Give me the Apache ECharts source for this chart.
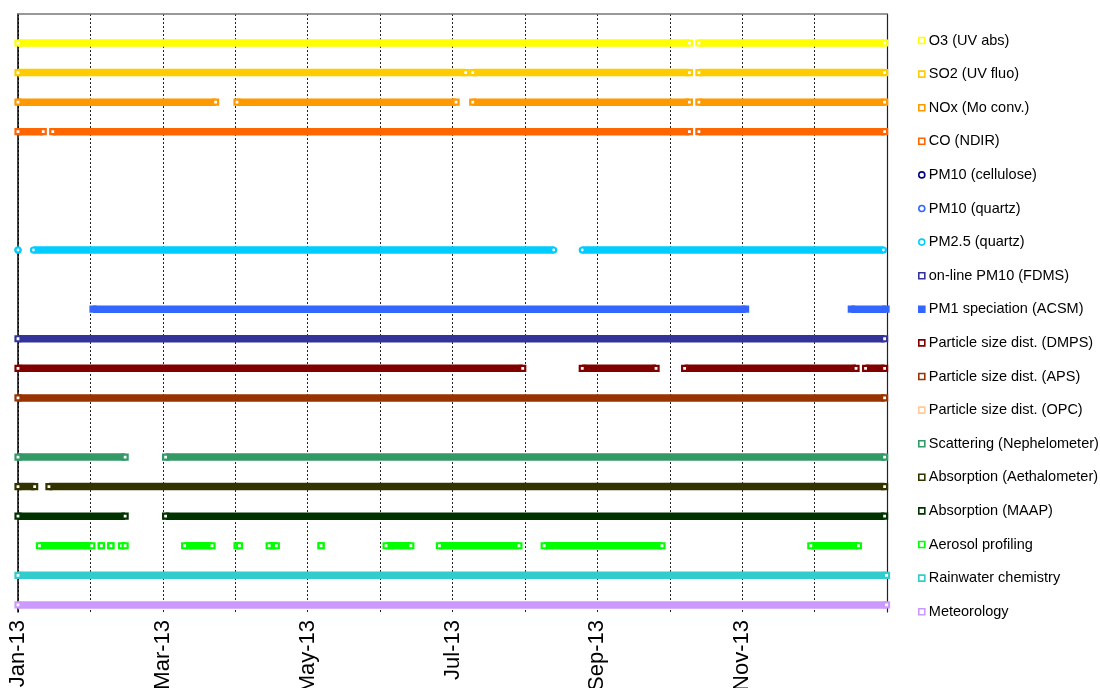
<!DOCTYPE html>
<html>
<head>
<meta charset="utf-8">
<script src="https://cdn.jsdelivr.net/npm/echarts@6/dist/echarts.min.js"></script>
<style>
  html, body { margin: 0; padding: 0; background: #fff; }
  #chart { width: 1100px; height: 688px; }
</style>
</head>
<body>
<div id="chart"></div>
<script>
// days since 1 Jan 2013, one [start, end] pair per period of data
const o3 = [[0, 282], [286, 364]]
const so2 = [[0, 188], [191, 282], [286, 364]]
const nox = [[0, 83], [92, 184], [191, 282], [286, 364]]
const co = [[0, 10.6], [14.6, 282], [286, 364]]
const pm10Cellulose = []
const pm10Quartz = []
const pm25 = [[0, 0], [6.5, 225], [237, 363.5]]
const fdms = [[0, 364]]
const acsm = [[31.5, 305.6], [350, 364.6]]
const dmps = [[0, 212], [237, 268], [280, 352], [356, 364]]
const aps = [[0, 364]]
const opc = []
const nephelometer = [[0, 45], [62, 364]]
const aethalometer = [[0, 7], [13, 364]]
const maap = [[0, 45], [62, 364]]
const profiling = [[9, 31], [35, 35], [39, 39], [43.5, 45], [70, 81.5], [92, 93], [105.5, 108.5],
  [127.3, 127.3], [154.6, 165], [177, 210.4], [221, 270.5], [333, 353]]
const rainwater = [[0, 364.8]]
const meteorology = [[0, 364.8]]

const tickLabels = ['Jan-13', '', 'Mar-13', '', 'May-13', '', 'Jul-13', '', 'Sep-13', '', 'Nov-13', '', '']

// name, colour, row, marker, periods
const instruments = [
  ['O3 (UV abs)', '#FFFF00', 20, 'rect', o3],
  ['SO2 (UV fluo)', '#FFCC00', 19, 'rect', so2],
  ['NOx (Mo conv.)', '#FF9900', 18, 'rect', nox],
  ['CO (NDIR)', '#FF6600', 17, 'rect', co],
  ['PM10 (cellulose)', '#000080', 16, 'circle', pm10Cellulose],
  ['PM10 (quartz)', '#3366FF', 15, 'circle', pm10Quartz],
  ['PM2.5 (quartz)', '#00CCFF', 13, 'circle', pm25],
  ['on-line PM10 (FDMS)', '#333399', 10, 'rect', fdms],
  ['PM1 speciation (ACSM)', '#3366FF', 11, 'filled', acsm],
  ['Particle size dist. (DMPS)', '#800000', 9, 'rect', dmps],
  ['Particle size dist. (APS)', '#993300', 8, 'rect', aps],
  ['Particle size dist. (OPC)', '#FFCC99', 7, 'rect', opc],
  ['Scattering (Nephelometer)', '#339966', 6, 'rect', nephelometer],
  ['Absorption (Aethalometer)', '#333300', 5, 'rect', aethalometer],
  ['Absorption (MAAP)', '#003300', 4, 'rect', maap],
  ['Aerosol profiling', '#00FF00', 3, 'rect', profiling],
  ['Rainwater chemistry', '#33CCCC', 2, 'rect', rainwater],
  ['Meteorology', '#CC99FF', 1, 'rect', meteorology]
]

const FONT = '"Liberation Sans", Arial, sans-serif'
const STEP = 365 / 12

const series = instruments.map(function (item) {
  const [name, color, row, marker, periods] = item
  const data = []
  periods.forEach(function (p) {
    data.push([p[0], row], [p[1], row], [p[1], '-'])
  })
  const filled = marker === 'filled'
  return {
    name: name,
    type: 'line',
    data: data,
    symbol: marker === 'circle' ? 'circle' : 'rect',
    symbolSize: 5,
    showSymbol: true,
    connectNulls: false,
    silent: true,
    z: 3,
    lineStyle: { color: color, width: 7.5, cap: 'butt' },
    itemStyle: { color: filled ? color : '#fff', borderColor: color, borderWidth: 2.2 }
  }
})

const legendData = instruments.map(function (item) {
  const [name, color, , marker] = item
  return {
    name: name,
    icon: marker === 'circle' ? 'circle' : 'rect',
    itemStyle: {
      color: marker === 'filled' ? color : '#fff',
      borderColor: color,
      borderWidth: 1.6
    }
  }
})

const chart = echarts.init(document.getElementById('chart'))
chart.setOption({
  animation: false,
  grid: { left: 18, right: 213, top: 14, bottom: 76, outerBoundsMode: 'none' },
  legend: {
    orient: 'vertical',
    left: 913,
    top: 28,
    itemWidth: 6,
    itemHeight: 6,
    itemGap: 18.6,
    selectedMode: false,
    textStyle: { fontFamily: FONT, fontSize: 14.5, lineHeight: 15, color: '#000', padding: [0, 0, 0, -1] },
    data: legendData
  },
  xAxis: [{
    type: 'value',
    min: 0,
    max: 365,
    interval: STEP,
    axisLine: { show: false },
    axisTick: { show: false },
    splitLine: { show: true, lineStyle: { color: '#222', type: [2, 2], width: 1 } },
    axisLabel: {
      rotate: 90,
      margin: 8,
      fontFamily: FONT,
      fontSize: 22,
      color: '#000',
      formatter: function (v) {
        return tickLabels[Math.round(v / STEP)] || ''
      }
    }
  }, {
    type: 'value',
    position: 'top',
    min: 0,
    max: 365,
    axisLine: { show: true, lineStyle: { color: '#777', width: 1.5 } },
    axisTick: { show: false },
    axisLabel: { show: false },
    splitLine: { show: false }
  }],
  yAxis: [{
    type: 'value',
    min: 0.76,
    max: 20.98,
    axisLine: { show: true, onZero: false, lineStyle: { color: '#000', width: 1.5 } },
    axisTick: { show: false },
    axisLabel: { show: false },
    splitLine: { show: false }
  }, {
    type: 'value',
    position: 'right',
    min: 0.76,
    max: 20.98,
    axisLine: { show: true, onZero: false, lineStyle: { color: '#222', width: 1.2 } },
    axisTick: { show: false },
    axisLabel: { show: false },
    splitLine: { show: false }
  }],
  series: series
})
</script>
</body>
</html>
